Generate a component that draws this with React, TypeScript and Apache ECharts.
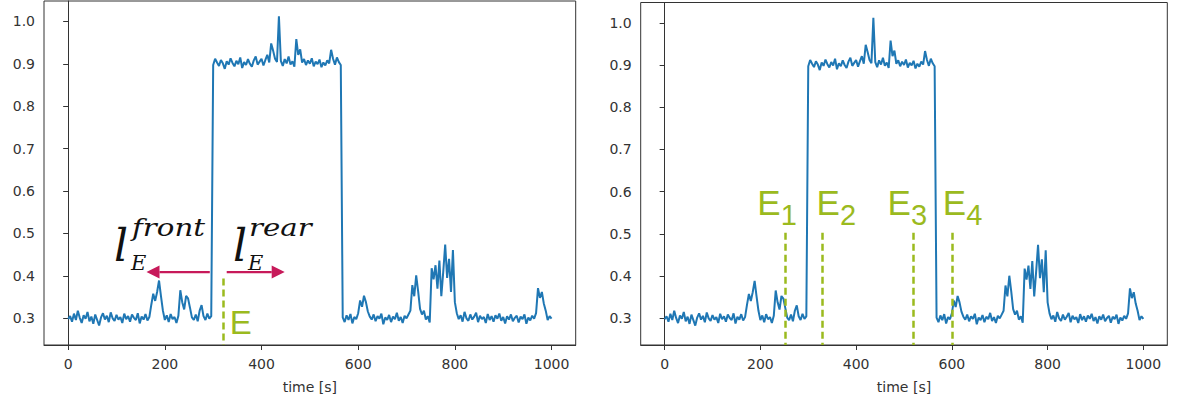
import React, { useEffect, useRef } from "react";
import * as echarts from "echarts";

// Sensor trace, one sample every SAMPLE_STEP seconds from t = 0 to t = 1000 s
const SAMPLE_STEP = 4;
const signal = [
  0.298, 0.305, 0.292, 0.311, 0.296, 0.318, 0.301, 0.289, 0.307, 0.299,
  0.315, 0.293, 0.304, 0.287, 0.309, 0.296, 0.283, 0.302, 0.312, 0.297,
  0.306, 0.291, 0.314, 0.300, 0.294, 0.308, 0.297, 0.303, 0.289, 0.311,
  0.298, 0.305, 0.292, 0.309, 0.301, 0.296, 0.312, 0.288, 0.304, 0.297,
  0.310, 0.295, 0.303, 0.332, 0.358, 0.341, 0.362, 0.389, 0.352, 0.318,
  0.296, 0.307, 0.291, 0.310, 0.298, 0.303, 0.289, 0.306, 0.366, 0.338,
  0.321, 0.353, 0.347, 0.325, 0.302, 0.296, 0.309, 0.293, 0.318, 0.331,
  0.305, 0.296, 0.311, 0.299, 0.305, 0.897, 0.912, 0.903, 0.895, 0.909,
  0.901, 0.888, 0.906, 0.898, 0.913, 0.902, 0.894, 0.907, 0.899, 0.915,
  0.890, 0.904, 0.897, 0.911, 0.900, 0.893, 0.908, 0.917, 0.898, 0.905,
  0.912, 0.896, 0.909, 0.921, 0.903, 0.948, 0.931, 0.912, 0.904, 1.012,
  0.907, 0.895, 0.911, 0.901, 0.917, 0.898, 0.906, 0.893, 0.958, 0.921,
  0.934, 0.903, 0.911, 0.897, 0.908, 0.900, 0.913, 0.894, 0.905, 0.899,
  0.910, 0.892, 0.903, 0.896, 0.908, 0.901, 0.933, 0.912, 0.898, 0.915,
  0.904, 0.897, 0.302, 0.291, 0.307, 0.296, 0.310, 0.288, 0.303, 0.298,
  0.312, 0.342, 0.327, 0.353, 0.338, 0.316, 0.304, 0.297, 0.309, 0.293,
  0.305, 0.299, 0.311, 0.286, 0.302, 0.296, 0.308, 0.291, 0.304, 0.298,
  0.313, 0.294, 0.303, 0.289, 0.306, 0.300, 0.309, 0.318, 0.378, 0.352,
  0.401, 0.364, 0.322, 0.309, 0.318, 0.297, 0.305, 0.290, 0.418, 0.392,
  0.425, 0.370, 0.436, 0.352, 0.410, 0.474, 0.395, 0.440, 0.362, 0.461,
  0.338, 0.312, 0.298, 0.307, 0.292, 0.315, 0.300, 0.294, 0.309, 0.297,
  0.304, 0.313, 0.291, 0.306, 0.298, 0.303, 0.289, 0.310, 0.296, 0.305,
  0.292, 0.307, 0.299, 0.311, 0.294, 0.303, 0.288, 0.305, 0.297, 0.309,
  0.293, 0.301, 0.306, 0.290, 0.304, 0.298, 0.309, 0.287, 0.302, 0.295,
  0.306, 0.299, 0.312, 0.371, 0.348, 0.362, 0.335, 0.318, 0.296, 0.305,
  0.299,
];

const xTicks = [0, 200, 400, 600, 800, 1000];
const yTicks = [0.3, 0.4, 0.5, 0.6, 0.7, 0.8, 0.9, 1.0];
const xRange = [-50, 1050];
const yRange = [0.237, 1.048];

// Left panel: a single event E with front / rear windows
const singleEventX = 320;
const singleEventTop = 0.394;
const arrowLevel = 0.409;
const frontArrow = [293, 162]; // from, to (seconds)
const rearArrow = [328, 448];

// Right panel: four events E1..E4
const multiEventX = [252, 330, 520, 600];
const multiEventIndex = ["1", "2", "3", "4"];
const multiEventTop = 0.503;

const LINE = "#1f77b4";
const GREEN = "#9bba1e";
const CRIMSON = "#c71a5a";
const AXIS = "#333333";
const TICK_FONT = "DejaVu Sans";

const points = signal.map((v, i) => [i * SAMPLE_STEP, v]);

function xAxisFor(gridIndex: number) {
  return {
    type: "value",
    gridIndex,
    min: xRange[0],
    max: xRange[1],
    name: "time [s]",
    nameLocation: "middle",
    nameGap: 35,
    nameTextStyle: { color: AXIS, fontSize: 14, fontFamily: TICK_FONT },
    axisLine: { show: true, lineStyle: { color: AXIS, width: 1 } },
    axisTick: { show: true, length: 5, customValues: xTicks, lineStyle: { color: AXIS } },
    axisLabel: {
      customValues: xTicks,
      formatter: (v: number) => String(v),
      color: AXIS,
      fontSize: 14,
      fontFamily: TICK_FONT,
      margin: 12,
    },
    splitLine: { show: false },
  };
}

function yAxisFor(gridIndex: number) {
  return {
    type: "value",
    gridIndex,
    min: yRange[0],
    max: yRange[1],
    axisLine: { show: true, lineStyle: { color: AXIS, width: 1 } },
    axisTick: { show: true, length: 5, customValues: yTicks, lineStyle: { color: AXIS } },
    axisLabel: {
      customValues: yTicks,
      formatter: (v: number) => v.toFixed(1),
      color: AXIS,
      fontSize: 14,
      fontFamily: TICK_FONT,
      margin: 9,
    },
    splitLine: { show: false },
  };
}

function eventLines(xs: number[], top: number) {
  return {
    silent: true,
    symbol: "none",
    label: { show: false },
    lineStyle: { color: GREEN, type: [7, 4], width: 2.5 },
    data: xs.map((x) => [{ coord: [x, top] }, { coord: [x, yRange[0]] }]),
  };
}

export default function App() {
  const ref = useRef<HTMLDivElement>(null);

  useEffect(() => {
    document.body.style.margin = "0";
    if (!ref.current) return;
    const chart = echarts.init(ref.current, null, { renderer: "svg" });

    chart.setOption({
      animation: false,
      grid: [
        { left: 44, right: 601.3, top: 1, bottom: 60, show: true, borderColor: AXIS, borderWidth: 1 },
        { left: 640.7, right: 9.7, top: 2.5, bottom: 60, show: true, borderColor: AXIS, borderWidth: 1 },
      ],
      xAxis: [xAxisFor(0), xAxisFor(1)],
      yAxis: [yAxisFor(0), yAxisFor(1)],
      series: [0, 1].map((g) => ({
        type: "line",
        xAxisIndex: g,
        yAxisIndex: g,
        data: points,
        showSymbol: false,
        symbol: "none",
        lineStyle: { color: LINE, width: 2 },
        markLine: g === 0 ? eventLines([singleEventX], singleEventTop) : eventLines(multiEventX, multiEventTop),
      })),
    });

    const px = (g: number, x: number, y: number) =>
      chart.convertToPixel({ gridIndex: g }, [x, y]) as number[];

    const graphics: any[] = [];

    // front / rear arrows
    [frontArrow, rearArrow].forEach(([from, to]) => {
      const a = px(0, from, arrowLevel);
      const b = px(0, to, arrowLevel);
      const dir = Math.sign(b[0] - a[0]);
      const headLen = 13;
      const headHalf = 6.5;
      graphics.push({
        type: "line",
        shape: { x1: a[0], y1: a[1], x2: b[0] - dir * headLen, y2: b[1] },
        style: { stroke: CRIMSON, lineWidth: 2.2 },
      });
      graphics.push({
        type: "polygon",
        shape: {
          points: [
            [b[0], b[1]],
            [b[0] - dir * headLen, b[1] - headHalf],
            [b[0] - dir * headLen, b[1] + headHalf],
          ],
        },
        style: { fill: CRIMSON },
      });
    });

    const serif = "DejaVu Serif";
    const mathText = (text: string, x: number, y: number, size: number, sx = 1) => ({
      type: "text",
      x,
      y,
      scaleX: sx,
      style: {
        text,
        fill: "#111",
        fontFamily: serif,
        fontStyle: "italic",
        fontSize: size,
        align: "left",
        verticalAlign: "middle",
      },
    });

    // l_E^front and l_E^rear
    graphics.push(mathText("l", 114, 245, 44));
    graphics.push(mathText("E", 131, 263, 21));
    graphics.push(mathText("front", 132, 227, 24, 1.22));
    graphics.push(mathText("l", 233, 245, 44));
    graphics.push(mathText("E", 248, 263, 21));
    graphics.push(mathText("rear", 249, 227, 24, 1.22));

    const greenText = (text: string, x: number, y: number, size: number) => ({
      type: "text",
      x,
      y,
      style: {
        text,
        fill: GREEN,
        fontFamily: "Liberation Sans",
        fontSize: size,
        align: "left",
        verticalAlign: "middle",
      },
    });

    // Single event label
    const e0 = px(0, singleEventX, singleEventTop);
    graphics.push(greenText("E", e0[0] + 7, 322, 33));

    // Indexed event labels
    const labelOffsets = [-28, -6, -26, -9];
    multiEventX.forEach((x, i) => {
      const p = px(1, x, multiEventTop);
      const left = p[0] + labelOffsets[i];
      graphics.push(greenText("E", left, 202, 35));
      graphics.push(greenText(multiEventIndex[i], left + 23.5, 215, 29));
    });

    chart.setOption({ graphic: graphics });

    return () => chart.dispose();
  }, []);

  return <div ref={ref} style={{ width: 1177, height: 405 }} />;
}
